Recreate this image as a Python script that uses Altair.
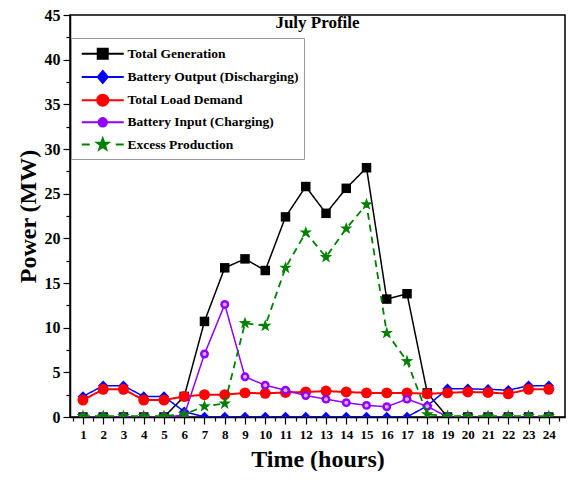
import altair as alt
import pandas as pd

hours = list(range(1, 25))
series_names = ["Total Generation", "Battery Output (Discharging)", "Total Load Demand",
                "Battery Input (Charging)", "Excess Production"]
total_generation = [0, 0, 0, 0, 0, 2.3, 10.7, 16.7, 17.7, 16.4, 22.4, 25.8,
                    22.8, 25.6, 27.9, 13.2, 13.8, 2.7, 0, 0, 0, 0, 0, 0]
battery_output = [2.3, 3.5, 3.5, 2.3, 2.3, 0.6, 0, 0, 0, 0, 0, 0,
                  0, 0, 0, 0, 0, 1.25, 3.15, 3.15, 3.1, 3.0, 3.5, 3.5]
load_demand = [1.9, 3.1, 3.1, 1.9, 1.9, 2.3, 2.5, 2.5, 2.7, 2.65, 2.75, 2.8,
               2.9, 2.8, 2.7, 2.7, 2.7, 2.6, 2.7, 2.8, 2.75, 2.6, 3.1, 3.1]
battery_input = [0, 0, 0, 0, 0, 0.2, 7.05, 12.6, 4.5, 3.55, 3.0, 2.4,
                 2.0, 1.6, 1.3, 1.15, 2.0, 1.2, 0, 0, 0, 0, 0, 0]
excess_production = [0.1, 0.1, 0.1, 0.1, 0.1, 0.3, 1.2, 1.5, 10.5, 10.2, 16.7, 20.65,
                     17.9, 21.1, 23.8, 9.4, 6.25, 0.3, 0.1, 0.1, 0.1, 0.1, 0.1, 0.1]

x_major = list(range(1, 25))
x_minor = [h + 0.5 for h in range(0, 25)]
y_major = list(range(0, 50, 5))
y_minor = [v + 2.5 for v in range(0, 45, 5)]

STAR = "M0,-1.2L0.282,-0.388L1.141,-0.371L0.457,0.148L0.705,0.971L0,0.48L-0.705,0.971L-0.457,0.148L-1.141,-0.371L-0.282,-0.388Z"

colors = ["#000000", "#0000FF", "#FF0000", "#8F00FF", "#008000"]
shapes = ["square", "diamond", "circle", "circle", STAR]
sizes = [90, 110, 120, 80, 120]
widths = [1.5, 1.5, 2, 1.5, 1.8]
dashes = [[1, 0], [1, 0], [1, 0], [1, 0], [7, 5]]

legend_paths = [
    "M-4.2,0H4.2M-1,-1H1V1H-1Z",
    "M-4.2,0H4.2M0,-1.2L1,0L0,1.2L-1,0Z",
    "M-4.2,0H4.2M1.1,0A1.1,1.1 0 1,1 -1.1,0A1.1,1.1 0 1,1 1.1,0Z",
    "M-4.2,0H4.2M0.85,0A0.85,0.85 0 1,1 -0.85,0A0.85,0.85 0 1,1 0.85,0Z",
    "M-4.2,0H-2.6M2.6,0H4.2" + STAR,
]

values = [total_generation, battery_output, load_demand, battery_input, excess_production]
rows = []
for name, vals in zip(series_names, values):
    for h, v in zip(hours, vals):
        rows.append({"hour": h, "value": v, "series": name})
df = pd.DataFrame(rows)

FONT = "Liberation Serif"
x_scale = alt.Scale(domain=[0.36, 24.8], nice=False, zero=False)
y_scale = alt.Scale(domain=[0, 45], nice=False)

common = dict(grid=False, labelOverlap=False, labelFlush=False,
              domainColor="black", domainWidth=1.5, tickColor="black", tickWidth=1.2)

x_major_axis = alt.Axis(
    orient="bottom", values=x_major, format="d", title="Time (hours)",
    labelFont=FONT, labelFontWeight="bold", labelFontSize=13, labelColor="black",
    titleFont=FONT, titleFontWeight="bold", titleFontSize=24, titleColor="black",
    titlePadding=6, labelPadding=4, tickSize=7, **common)
x_minor_axis = alt.Axis(orient="bottom", values=x_minor, labels=False, domain=False,
                        title=None, tickSize=4, grid=False, tickColor="black", tickWidth=1.2)
y_major_axis = alt.Axis(
    orient="left", values=y_major, format="d", title="Power (MW)",
    labelFont=FONT, labelFontWeight="bold", labelFontSize=16, labelColor="black",
    titleFont=FONT, titleFontWeight="bold", titleFontSize=24, titleColor="black",
    titlePadding=4, labelPadding=3, tickSize=7, **common)
y_minor_axis = alt.Axis(orient="left", values=y_minor, labels=False, domain=False,
                        title=None, tickSize=4, grid=False, tickColor="black", tickWidth=1.2)

base = alt.Chart(df)
layers = []
first = True
for i, name in enumerate(series_names):
    sub = base.transform_filter(alt.datum.series == name)
    if first:
        xe = alt.X("hour:Q", scale=x_scale, axis=x_major_axis)
        ye = alt.Y("value:Q", scale=y_scale, axis=y_major_axis)
        first = False
    else:
        xe = alt.X("hour:Q", scale=x_scale, axis=None)
        ye = alt.Y("value:Q", scale=y_scale, axis=None)
    line = sub.mark_line(color=colors[i], strokeWidth=widths[i], strokeDash=dashes[i],
                         clip=True).encode(x=xe, y=ye)
    xn = alt.X("hour:Q", scale=x_scale, axis=None)
    yn = alt.Y("value:Q", scale=y_scale, axis=None)
    pts = sub.mark_point(shape=shapes[i], filled=True, color=colors[i], size=sizes[i],
                         opacity=1, clip=True).encode(x=xn, y=yn)
    layers += [line, pts]
    if name == "Battery Input (Charging)":
        hl = sub.mark_point(shape="circle", filled=True, color="#D9A8FF", size=16,
                            opacity=1, clip=True).encode(x=xn, y=yn)
        layers.append(hl)

leg = alt.Legend(title=" ")
legend_layer = base.transform_filter("false").mark_point(
    filled=True, opacity=1, size=100, strokeWidth=2
).encode(
    x=alt.X("hour:Q", scale=x_scale, axis=x_minor_axis),
    y=alt.Y("value:Q", scale=y_scale, axis=y_minor_axis),
    fill=alt.Fill("series:N", scale=alt.Scale(domain=series_names, range=colors), legend=leg),
    stroke=alt.Stroke("series:N", scale=alt.Scale(domain=series_names, range=colors), legend=leg),
    shape=alt.Shape("series:N", scale=alt.Scale(domain=series_names, range=legend_paths), legend=leg),
)
layers.append(legend_layer)

chart = alt.layer(*layers).resolve_axis(x="independent", y="independent").properties(
    width=495, height=402,
    title=alt.Title("July Profile", font=FONT, fontWeight="bold", fontSize=17,
                    color="black", anchor="middle", dy=29),
    autosize=alt.AutoSizeParams(type="none"),
    padding={"left": 62, "top": 7, "right": 1, "bottom": 54},
).configure_view(
    stroke="black", strokeWidth=1.5
).configure_legend(
    orient="none", legendX=1, legendY=23, padding=5,
    strokeColor="#999999", strokeWidth=1, fillColor="white",
    titleFontSize=4, titlePadding=0,
    labelFont=FONT, labelFontWeight="bold", labelFontSize=13.5, labelColor="black",
    symbolSize=100, symbolStrokeWidth=2, symbolOffset=20, labelOffset=18,
    rowPadding=3.2, labelLimit=300,
)

chart.save("out.html", embed_options={"renderer": "svg", "actions": False})
